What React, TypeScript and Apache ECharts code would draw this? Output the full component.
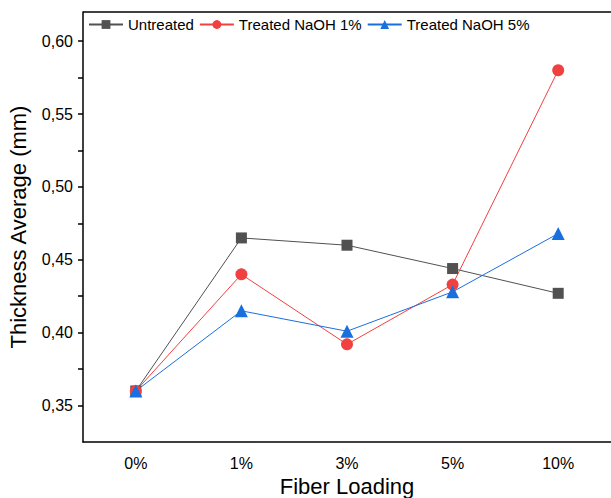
import React, { useEffect, useRef } from "react";
import * as echarts from "echarts";

const categories = ["0%", "1%", "3%", "5%", "10%"];
const untreated = [0.36, 0.465, 0.46, 0.444, 0.427];
const naoh1 = [0.36, 0.44, 0.392, 0.433, 0.58];
const naoh5 = [0.36, 0.415, 0.401, 0.428, 0.468];
const majorTicks = [0.35, 0.4, 0.45, 0.5, 0.55, 0.6];
const minorTicks = [0.375, 0.425, 0.475, 0.525, 0.575];

const FONT = "Liberation Sans, Arial, sans-serif";

export default function App() {
  const ref = useRef<HTMLDivElement>(null);
  useEffect(() => {
    if (!ref.current) return;
    const chart = echarts.init(ref.current, null, { renderer: "svg" });
    const mk = (name: string, data: number[], color: string, symbol: string, size: number) => ({
      name,
      type: "line",
      data,
      symbol,
      symbolSize: size,
      lineStyle: { color, width: 1 },
      itemStyle: { color },
      z: 3,
    });
    chart.setOption({
      animation: false,
      textStyle: { fontFamily: FONT },
      grid: { left: 83, top: 12, right: 6, bottom: 56, containLabel: false, outerBoundsMode: "none", show: false },
      graphic: [
        {
          type: "line",
          shape: { x1: 83, y1: 12, x2: 617, y2: 12 },
          style: { stroke: "#000", lineWidth: 1.5 },
          z: 10,
        },
      ],
      legend: {
        left: 88,
        top: 17,
        padding: 0,
        itemGap: 5,
        itemWidth: 34,
        itemHeight: 11,
        textStyle: { fontSize: 15, color: "#000", fontFamily: FONT },
        data: ["Untreated", "Treated NaOH 1%", "Treated NaOH 5%"],
      },
      xAxis: {
        type: "category",
        data: categories,
        boundaryGap: true,
        position: "bottom",
        axisLine: { onZero: false, lineStyle: { color: "#000", width: 1.5 } },
        axisTick: { alignWithLabel: true, length: 5, lineStyle: { color: "#000", width: 1.5 } },
        axisLabel: { fontSize: 16, color: "#000", margin: 13, fontFamily: FONT },
        splitLine: { show: false },
        name: "Fiber Loading",
        nameLocation: "middle",
        nameGap: 31,
        nameTextStyle: { fontSize: 22, color: "#000", fontFamily: FONT },
      },
      yAxis: {
        type: "value",
        min: 0.325,
        max: 0.62,
        position: "left",
        splitLine: { show: false },
        axisLine: { show: true, onZero: false, lineStyle: { color: "#000", width: 1.5 } },
        axisTick: {
          show: true,
          length: 5,
          customValues: [...majorTicks, ...minorTicks],
          lineStyle: { color: "#000", width: 1.5 },
        },
        axisLabel: {
          customValues: majorTicks,
          fontSize: 16,
          color: "#000",
          margin: 10,
          fontFamily: FONT,
          formatter: (v: number) => v.toFixed(2).replace(".", ","),
        },
        name: "Thickness Average (mm)",
        nameLocation: "middle",
        nameGap: 54,
        nameTextStyle: { fontSize: 22, color: "#000", fontFamily: FONT },
      },
      series: [
        mk("Untreated", untreated, "#515151", "rect", 11),
        mk("Treated NaOH 1%", naoh1, "#F14040", "circle", 12),
        mk("Treated NaOH 5%", naoh5, "#1A6FDF", "triangle", 13),
      ],
    });
    return () => chart.dispose();
  }, []);
  return (
    <div
      style={{ position: "absolute", left: 0, top: 0, width: 611, height: 498, overflow: "hidden" }}
    >
      <div ref={ref} style={{ width: 617, height: 498 }} />
    </div>
  );
}
